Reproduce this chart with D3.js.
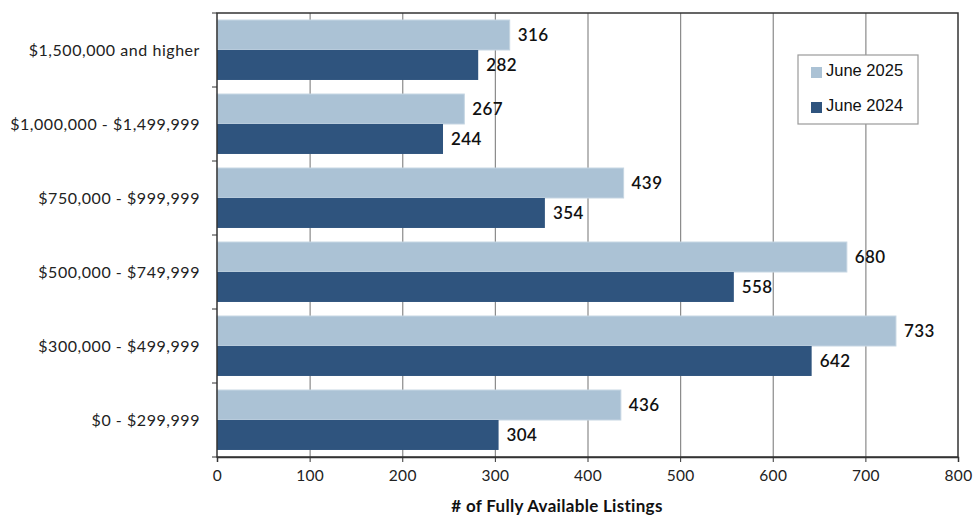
<!DOCTYPE html>
<html>
<head>
<meta charset="utf-8">
<script src="https://cdn.jsdelivr.net/npm/d3@7/dist/d3.min.js"></script>
<style>
  html, body { margin: 0; padding: 0; background: #ffffff; }
  svg { display: block; }
</style>
</head>
<body>
<svg id="chart" width="976" height="517"></svg>
<script>
// Price ranges, top to bottom
const categories = [
  "$1,500,000 and higher",
  "$1,000,000 - $1,499,999",
  "$750,000 - $999,999",
  "$500,000 - $749,999",
  "$300,000 - $499,999",
  "$0 - $299,999"
];
const seriesNames = ["June 2025", "June 2024"];
const june2025 = [316, 267, 439, 680, 733, 436];
const june2024 = [282, 244, 354, 558, 642, 304];
const xTicks = [0, 100, 200, 300, 400, 500, 600, 700, 800];
const colors = ["#abc2d5", "#2f547e"];
const axisTitle = "# of Fully Available Listings";

const svg = d3.select("#chart");
const margin = { left: 217, top: 13, right: 18, bottom: 60 };
const W = 976, H = 517;
const plotW = W - margin.left - margin.right;
const plotH = H - margin.top - margin.bottom;
const FONT = "Lato, 'DejaVu Sans', sans-serif";

const x = d3.scaleLinear().domain([0, 800]).range([0, plotW]);
const y0 = d3.scaleBand().domain(categories).range([0, plotH]).paddingInner(0.19).paddingOuter(0.095);
const y1 = d3.scaleBand().domain(seriesNames).range([0, y0.bandwidth()]);

const g = svg.append("g").attr("transform", `translate(${margin.left},${margin.top})`);

// Vertical gridlines
g.append("g").selectAll("line").data(xTicks.slice(1, -1)).join("line")
  .attr("x1", d => x(d) + 0.5).attr("x2", d => x(d) + 0.5)
  .attr("y1", 0).attr("y2", plotH)
  .attr("stroke", "#8a8a8a").attr("stroke-width", 1.2);

// Bars
const rows = categories.map((c, i) => ({ cat: c, vals: [june2025[i], june2024[i]] }));
const grp = g.append("g").selectAll("g").data(rows).join("g")
  .attr("transform", d => `translate(0,${y0(d.cat)})`);

grp.selectAll("rect").data(d => d.vals.map((v, k) => ({ v, k }))).join("rect")
  .attr("x", 0)
  .attr("y", d => y1(seriesNames[d.k]))
  .attr("width", d => x(d.v))
  .attr("height", y1.bandwidth())
  .attr("fill", d => colors[d.k])
  .attr("stroke", d => d.k === 0 ? "#c5d5e2" : "none")
  .attr("stroke-width", 1);

// Value labels
grp.selectAll("text").data(d => d.vals.map((v, k) => ({ v, k }))).join("text")
  .attr("x", d => x(d.v) + 8)
  .attr("y", d => y1(seriesNames[d.k]) + y1.bandwidth() / 2)
  .attr("dy", "0.36em")
  .attr("font-family", FONT)
  .attr("font-size", 17)
  .attr("font-weight", 600)
  .attr("letter-spacing", 0.4)
  .attr("fill", "#111")
  .text(d => d.v);

// Plot frame
g.append("rect").attr("x", 0).attr("y", 0).attr("width", plotW).attr("height", plotH)
  .attr("fill", "none").attr("stroke", "#333").attr("stroke-width", 1.5);

// X axis
const xAxis = g.append("g").attr("transform", `translate(0,${plotH})`)
  .call(d3.axisBottom(x).tickValues(xTicks).tickSize(5).tickPadding(8).tickFormat(d3.format("d")));
xAxis.select(".domain").attr("stroke", "#333").attr("stroke-width", 1.5);
xAxis.selectAll(".tick line").attr("stroke", "#333");
xAxis.selectAll("text")
  .attr("font-family", FONT)
  .attr("font-size", 15.5).attr("letter-spacing", 0.3).attr("fill", "#222");

// Y axis: ticks sit on the boundaries between categories
const bounds = d3.range(categories.length + 1).map(i => i * plotH / categories.length);
g.append("g").selectAll("line").data(bounds).join("line")
  .attr("x1", -5).attr("x2", 0)
  .attr("y1", d => d).attr("y2", d => d)
  .attr("stroke", "#333").attr("stroke-width", 1);

g.append("g").selectAll("text").data(categories).join("text")
  .attr("x", -17)
  .attr("y", d => y0(d) + y0.bandwidth() / 2)
  .attr("dy", "0.35em")
  .attr("text-anchor", "end")
  .attr("font-family", FONT)
  .attr("font-size", 16)
  .attr("letter-spacing", 0.55)
  .attr("fill", "#222")
  .text(d => d);

// Axis title
svg.append("text")
  .attr("x", 557)
  .attr("y", 512)
  .attr("text-anchor", "middle")
  .attr("font-family", FONT)
  .attr("font-size", 17)
  .attr("font-weight", 700)
  .attr("letter-spacing", 0.3)
  .attr("fill", "#111")
  .text(axisTitle);

// Legend
const lg = svg.append("g").attr("transform", "translate(798,55)");
lg.append("rect").attr("width", 120).attr("height", 69)
  .attr("fill", "#fff").attr("stroke", "#9a9a9a").attr("stroke-width", 1.2);
seriesNames.forEach((s, i) => {
  lg.append("rect").attr("x", 13).attr("y", 12 + i * 35).attr("width", 11).attr("height", 11)
    .attr("fill", colors[i]);
  lg.append("text").attr("x", 28).attr("y", 21 + i * 35)
    .attr("font-family", "'Liberation Sans', Arial, sans-serif")
    .attr("font-size", 16.5).attr("fill", "#111").text(s);
});
</script>
</body>
</html>
